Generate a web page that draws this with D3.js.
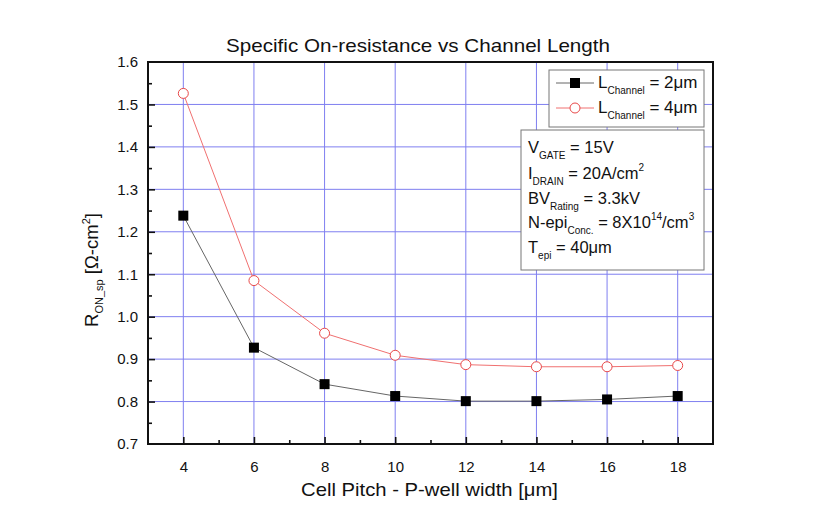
<!DOCTYPE html>
<html><head><meta charset="utf-8">
<script src="https://cdn.jsdelivr.net/npm/d3@7"></script>
<style>
body{margin:0;background:#fff;}
text{font-family:"Liberation Sans",Arial,sans-serif;fill:#111;}
</style></head>
<body><svg id="c" width="828" height="532"></svg>
<script>
const pitch = [4, 6, 8, 10, 12, 14, 16, 18];
const ron2um = [1.238, 0.927, 0.841, 0.813, 0.801, 0.801, 0.805, 0.813];
const ron4um = [1.526, 1.085, 0.961, 0.909, 0.887, 0.882, 0.882, 0.885];
const xTicks = [4, 6, 8, 10, 12, 14, 16, 18];
const yTicks = [0.7, 0.8, 0.9, 1.0, 1.1, 1.2, 1.3, 1.4, 1.5, 1.6];

const svg = d3.select("#c");
const L = 148, T = 62, R = 713, B = 444;
const x = d3.scaleLinear().domain([3, 19]).range([L, R]);
const y = d3.scaleLinear().domain([0.7, 1.6]).range([B, T]);
const grid = "#7f7ff0";

// grid
svg.append("g").selectAll("line").data(xTicks).join("line")
  .attr("x1", d => x(d)).attr("x2", d => x(d)).attr("y1", T).attr("y2", B)
  .attr("stroke", grid).attr("stroke-width", 1);
svg.append("g").selectAll("line").data(yTicks.slice(1, -1)).join("line")
  .attr("y1", d => y(d)).attr("y2", d => y(d)).attr("x1", L).attr("x2", R)
  .attr("stroke", grid).attr("stroke-width", 1);

// axes (ticks inward)
const xAxis = d3.axisBottom(x).tickValues(xTicks).tickSize(-7).tickPadding(17).tickFormat(d3.format("d"));
const gx = svg.append("g").attr("transform", `translate(0,${B})`).call(xAxis);
const xMinor = d3.axisBottom(x).tickValues(d3.range(5, 18, 2)).tickSize(-4).tickFormat("");
svg.append("g").attr("transform", `translate(0,${B})`).call(xMinor).select(".domain").remove();
const yAxis = d3.axisLeft(y).tickValues(yTicks).tickSize(-7).tickPadding(10).tickFormat(d3.format(".1f"));
const gy = svg.append("g").attr("transform", `translate(${L},0)`).call(yAxis);
const yMinor = d3.axisLeft(y).tickValues(d3.range(0.75, 1.6, 0.1)).tickSize(-4).tickFormat("");
svg.append("g").attr("transform", `translate(${L},0)`).call(yMinor).select(".domain").remove();
svg.selectAll(".domain").remove();
svg.selectAll(".tick line").attr("stroke", "#111").attr("stroke-width", 1.6);
gx.selectAll(".tick text").attr("font-size", 15).attr("fill", "#111");
gy.selectAll(".tick text").attr("font-size", 15).attr("fill", "#111");
gy.selectAll(".tick").filter(d => d === 0.7 || d === 1.6).select("line").remove();

// frame
svg.append("rect").attr("x", L).attr("y", T).attr("width", R - L).attr("height", B - T)
  .attr("fill", "none").attr("stroke", "#111").attr("stroke-width", 2);

// series
const line = d3.line().x((d, i) => x(pitch[i])).y(d => y(d));
svg.append("path").datum(ron4um).attr("d", line).attr("fill", "none").attr("stroke", "#f07070").attr("stroke-width", 1);
svg.append("path").datum(ron2um).attr("d", line).attr("fill", "none").attr("stroke", "#666").attr("stroke-width", 1);
svg.append("g").selectAll("circle").data(ron4um).join("circle")
  .attr("cx", (d, i) => x(pitch[i])).attr("cy", d => y(d)).attr("r", 5)
  .attr("fill", "#fff").attr("stroke", "#e84848").attr("stroke-width", 1);
svg.append("g").selectAll("rect").data(ron2um).join("rect")
  .attr("x", (d, i) => x(pitch[i]) - 5).attr("y", d => y(d) - 5).attr("width", 10).attr("height", 10)
  .attr("fill", "#000");

// title & axis labels
svg.append("text").attr("x", 226).attr("y", 52).attr("font-size", 18.5)
  .attr("textLength", 384).attr("lengthAdjust", "spacingAndGlyphs")
  .text("Specific On-resistance vs Channel Length");
svg.append("text").attr("x", 301).attr("y", 496).attr("font-size", 18.5)
  .attr("textLength", 257).attr("lengthAdjust", "spacingAndGlyphs")
  .text("Cell Pitch - P-well width [μm]");
const yl = svg.append("text").attr("transform", "translate(98,270) rotate(-90)").attr("text-anchor", "middle").attr("font-size", 18.5);
yl.append("tspan").text("R");
yl.append("tspan").attr("font-size", 11).attr("dy", 5).text("ON_sp");
yl.append("tspan").attr("dy", -5).text(" [Ω-cm");
yl.append("tspan").attr("font-size", 11).attr("dy", -8).text("2");
yl.append("tspan").attr("dy", 8).text("]");

// legend
svg.append("rect").attr("x", 549).attr("y", 70).attr("width", 155).attr("height", 57)
  .attr("fill", "#fff").attr("stroke", "#777").attr("stroke-width", 1);
const legItems = [
  {name: "2μm", stroke: "#666", type: "sq", yy: 88},
  {name: "4μm", stroke: "#f07070", type: "ci", yy: 113}
];
legItems.forEach(it => {
  svg.append("line").attr("x1", 556).attr("x2", 594).attr("y1", it.yy - 5).attr("y2", it.yy - 5)
    .attr("stroke", it.stroke).attr("stroke-width", 1);
  if (it.type === "sq") svg.append("rect").attr("x", 570).attr("y", it.yy - 10).attr("width", 10).attr("height", 10).attr("fill", "#000");
  else svg.append("circle").attr("cx", 575).attr("cy", it.yy - 5).attr("r", 5).attr("fill", "#fff").attr("stroke", "#e84848");
  const t = svg.append("text").attr("x", 598).attr("y", it.yy).attr("font-size", 17);
  t.append("tspan").text("L");
  t.append("tspan").attr("font-size", 10).attr("dy", 6).text("Channel");
  t.append("tspan").attr("dy", -6).text(" = " + it.name);
});

// annotation box
svg.append("rect").attr("x", 521).attr("y", 130).attr("width", 183).attr("height", 140)
  .attr("fill", "#fff").attr("stroke", "#777").attr("stroke-width", 1);
const notes = [
  {base: "V", sub: "GATE", rest: " = 15V", sup: null, tail: "", yy: 153},
  {base: "I", sub: "DRAIN", rest: " = 20A/cm", sup: "2", tail: "", yy: 179},
  {base: "BV", sub: "Rating", rest: " = 3.3kV", sup: null, tail: "", yy: 204},
  {base: "N-epi", sub: "Conc.", rest: " = 8X10", sup: "14", tail: "/cm", sup2: "3", yy: 228},
  {base: "T", sub: "epi", rest: " = 40μm", sup: null, tail: "", yy: 253}
];
notes.forEach(n => {
  const t = svg.append("text").attr("x", 528).attr("y", n.yy).attr("font-size", 16.5);
  t.append("tspan").text(n.base);
  t.append("tspan").attr("font-size", 10).attr("dy", 6).text(n.sub);
  t.append("tspan").attr("dy", -6).text(n.rest);
  if (n.sup) {
    t.append("tspan").attr("font-size", 10).attr("dy", -8).text(n.sup);
    t.append("tspan").attr("dy", 8).text(n.tail);
    if (n.sup2) t.append("tspan").attr("font-size", 10).attr("dy", -8).text(n.sup2);
  }
});
</script></body></html>
